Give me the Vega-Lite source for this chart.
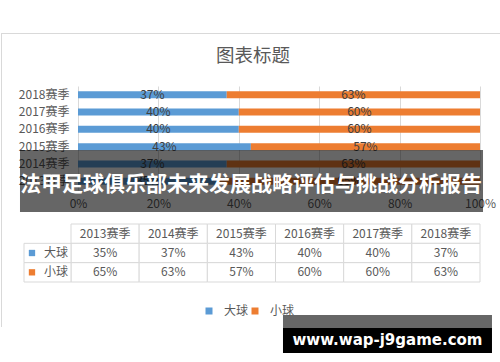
{
  "$schema": "https://vega.github.io/schema/vega-lite/v6.json",
  "background": "white",
  "padding": {"left": 0, "top": 33, "right": 0, "bottom": 9},
  "bounds": "flush",
  "spacing": 34,
  "config": {"view": {"stroke": null}, "font": "Noto Sans CJK SC"},
  "datasets": {
    "d": [
      {"season": "2013赛季", "type": "大球", "value": 0.35},
      {"season": "2013赛季", "type": "小球", "value": 0.65},
      {"season": "2014赛季", "type": "大球", "value": 0.37},
      {"season": "2014赛季", "type": "小球", "value": 0.63},
      {"season": "2015赛季", "type": "大球", "value": 0.43},
      {"season": "2015赛季", "type": "小球", "value": 0.57},
      {"season": "2016赛季", "type": "大球", "value": 0.40},
      {"season": "2016赛季", "type": "小球", "value": 0.60},
      {"season": "2017赛季", "type": "大球", "value": 0.40},
      {"season": "2017赛季", "type": "小球", "value": 0.60},
      {"season": "2018赛季", "type": "大球", "value": 0.37},
      {"season": "2018赛季", "type": "小球", "value": 0.63}
    ]
  },
  "vconcat": [
    {
      "width": 409,
      "height": 104,
      "title": {"text": "图表标题", "fontSize": 18.5, "fontWeight": "normal", "color": "#595959", "anchor": "middle", "frame": "bounds", "offset": 21, "dx": -4},
      "data": {"name": "d"},
      "layer": [
        {
          "layer": [
            {
              "mark": {"type": "bar"},
              "encoding": {
                "y": {"field": "season", "type": "nominal", "sort": ["2018赛季", "2017赛季", "2016赛季", "2015赛季", "2014赛季", "2013赛季"], "scale": {"paddingInner": 0.6, "paddingOuter": 0.3}, "axis": {"title": null, "domain": false, "ticks": false, "labelPadding": 2, "labelFontSize": 12, "labelColor": "#595959"}},
                "x": {"field": "value", "type": "quantitative", "stack": "normalize", "scale": {"domain": [-0.01741, 1], "nice": false, "zero": false}, "axis": {"title": null, "values": [0, 0.2, 0.4, 0.6, 0.8, 1], "format": ".0%", "grid": true, "gridColor": "#d9d9d9", "domain": false, "ticks": false, "labelPadding": 8, "labelFontSize": 12, "labelColor": "#595959", "labelFlush": false}},
                "color": {"field": "type", "type": "nominal", "scale": {"domain": ["大球", "小球"], "range": ["#5b9bd5", "#ed7d31"]}, "legend": {"orient": "none", "legendX": 132, "legendY": 219, "direction": "horizontal", "title": null, "symbolType": "square", "symbolSize": 49, "symbolStrokeWidth": 0, "labelFontSize": 12, "labelColor": "#595959", "labelOffset": 9, "columnPadding": 0}}
              }
            },
            {
              "mark": {"type": "text", "color": "#404040", "fontSize": 12},
              "encoding": {
                "y": {"field": "season", "type": "nominal", "sort": ["2018赛季", "2017赛季", "2016赛季", "2015赛季", "2014赛季", "2013赛季"]},
                "x": {"field": "value", "type": "quantitative", "stack": "normalize", "bandPosition": 0.5},
                "detail": {"field": "type"},
                "text": {"field": "value", "format": ".0%"}
              }
            }
          ]
        },
        {
          "data": {"values": [{"t": "法甲足球俱乐部未来发展战略评估与挑战分析报告"}]},
          "layer": [
            {
              "mark": {"type": "rect", "color": "black", "opacity": 0.6},
              "encoding": {
                "x": {"datum": -0.1443, "type": "quantitative", "scale": {"domain": [-0.01741, 1], "nice": false, "zero": false}},
                "x2": {"datum": 1.0075},
                "y": {"datum": 0.3846, "type": "quantitative", "scale": {"domain": [0, 1], "nice": false, "zero": false}, "axis": null},
                "y2": {"datum": -0.2115}
              }
            },
            {
              "mark": {"type": "text", "color": "white", "fontSize": 21, "fontWeight": "bold", "align": "center", "baseline": "middle"},
              "encoding": {
                "x": {"datum": 0.4303, "type": "quantitative"},
                "y": {"datum": 0.048, "type": "quantitative"},
                "text": {"field": "t"}
              }
            }
          ]
        }
      ],
      "resolve": {"scale": {"y": "independent"}}
    },
    {
      "width": 409,
      "height": 58,
      "data": {"name": "d"},
      "layer": [
        {
          "layer": [
            {
              "transform": [{"filter": "datum.type === '大球'"}],
              "mark": {"type": "rect", "fill": "white", "stroke": "#d9d9d9", "strokeWidth": 1},
              "encoding": {
                "x": {"field": "season", "type": "nominal", "scale": {"paddingInner": 0, "paddingOuter": 0}, "axis": null},
                "y": {"datum": "header", "type": "nominal", "scale": {"domain": ["header", "大球", "小球"], "paddingInner": 0, "paddingOuter": 0}, "axis": null}
              }
            },
            {
              "transform": [{"filter": "datum.type === '大球'"}],
              "mark": {"type": "text", "fontSize": 12, "color": "#595959"},
              "encoding": {
                "x": {"field": "season", "type": "nominal"},
                "y": {"datum": "header", "type": "nominal"},
                "text": {"field": "season"}
              }
            },
            {
              "mark": {"type": "rect", "fill": "white", "stroke": "#d9d9d9", "strokeWidth": 1},
              "encoding": {
                "x": {"field": "season", "type": "nominal"},
                "y": {"field": "type", "type": "nominal"}
              }
            },
            {
              "mark": {"type": "text", "fontSize": 12, "color": "#595959"},
              "encoding": {
                "x": {"field": "season", "type": "nominal"},
                "y": {"field": "type", "type": "nominal"},
                "text": {"field": "value", "format": ".0%"}
              }
            }
          ]
        },
        {
          "transform": [{"filter": "datum.season === '2013赛季'"}],
          "layer": [
            {
              "mark": {"type": "rect", "fill": "white", "stroke": "#d9d9d9", "strokeWidth": 1},
              "encoding": {
                "x": {"datum": -0.1149, "type": "quantitative", "scale": {"domain": [0, 1], "nice": false, "zero": false}, "axis": null},
                "x2": {"datum": 0},
                "y": {"field": "type", "type": "nominal", "scale": {"domain": ["header", "大球", "小球"], "paddingInner": 0, "paddingOuter": 0}, "axis": null}
              }
            },
            {
              "mark": {"type": "point", "shape": "square", "filled": true, "size": 40, "opacity": 1},
              "encoding": {
                "x": {"datum": -0.0954, "type": "quantitative"},
                "y": {"field": "type", "type": "nominal"},
                "color": {"field": "type", "type": "nominal"}
              }
            },
            {
              "mark": {"type": "text", "fontSize": 12, "color": "#595959", "align": "right"},
              "encoding": {
                "x": {"datum": -0.0073, "type": "quantitative"},
                "y": {"field": "type", "type": "nominal"},
                "text": {"field": "type"}
              }
            }
          ]
        },
        {
          "data": {"values": [{"t": "www.wap-j9game.com"}]},
          "layer": [
            {
              "mark": {"type": "rule", "color": "#d9d9d9", "strokeWidth": 1},
              "encoding": {
                "x": {"datum": -0.1711, "type": "quantitative", "scale": {"domain": [0, 1], "nice": false, "zero": false}, "axis": null},
                "x2": {"datum": 1.0513},
                "y": {"datum": 4.284, "type": "quantitative", "scale": {"domain": [0, 1], "nice": false, "zero": false}, "axis": null}
              }
            },
            {
              "mark": {"type": "rule", "color": "#d9d9d9", "strokeWidth": 1},
              "encoding": {
                "x": {"datum": -0.1699, "type": "quantitative"},
                "y": {"datum": 4.284, "type": "quantitative"},
                "y2": {"datum": -0.776}
              }
            },
            {
              "mark": {"type": "rect", "color": "black", "opacity": 0.6},
              "encoding": {
                "x": {"datum": 0.5183, "type": "quantitative"},
                "x2": {"datum": 1.0293},
                "y": {"datum": -0.569, "type": "quantitative"},
                "y2": {"datum": -0.793}
              }
            },
            {
              "mark": {"type": "rect", "color": "black", "opacity": 1},
              "encoding": {
                "x": {"datum": 0.5183, "type": "quantitative"},
                "x2": {"datum": 1.0293},
                "y": {"datum": -0.793, "type": "quantitative"},
                "y2": {"datum": -1.224}
              }
            },
            {
              "mark": {"type": "text", "color": "white", "fontSize": 15, "fontWeight": "bold", "font": "DejaVu Sans", "align": "center", "baseline": "middle"},
              "encoding": {
                "x": {"datum": 0.7738, "type": "quantitative"},
                "y": {"datum": -1.0, "type": "quantitative"},
                "text": {"field": "t"}
              }
            }
          ]
        }
      ],
      "resolve": {"scale": {"x": "independent", "y": "independent"}}
    }
  ]
}
